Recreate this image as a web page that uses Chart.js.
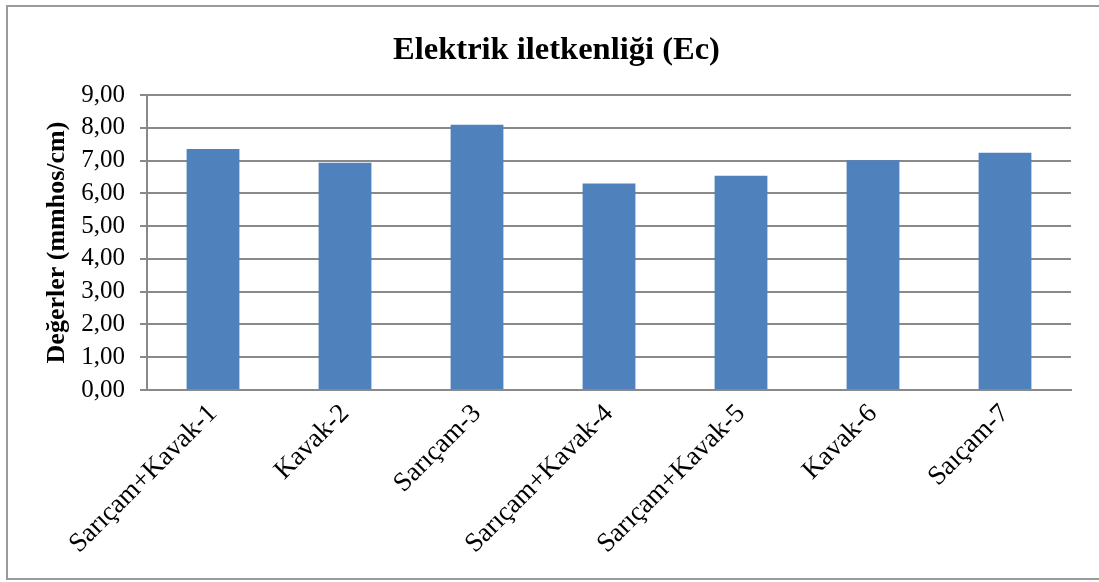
<!DOCTYPE html>
<html>
<head>
<meta charset="utf-8">
<script src="https://cdn.jsdelivr.net/npm/chart.js@4.4.1/dist/chart.umd.min.js"></script>
<style>
html,body{margin:0;padding:0;background:#fff;overflow:hidden;}
#wrap{position:absolute;left:0;top:0;width:1099px;height:582px;}
#frame{position:absolute;left:6px;top:5px;width:1200px;height:575px;border:2px solid #9a9a9a;box-sizing:border-box;pointer-events:none;}
</style>
</head>
<body>
<div id="wrap"><canvas id="c" width="1099" height="582"></canvas></div>
<div id="frame"></div>
<script>
const categories = ["Sarıçam+Kavak-1","Kavak-2","Sarıçam-3","Sarıçam+Kavak-4","Sarıçam+Kavak-5","Kavak-6","Saıçam-7"];
const ecValues = [7.35, 6.93, 8.09, 6.30, 6.54, 7.01, 7.24];
const yTicks = [0,1,2,3,4,5,6,7,8,9];
const chartTitle = "Elektrik iletkenliği (Ec)";
const yTitle = "Değerler (mmhos/cm)";

const FONT = "'Liberation Serif','Times New Roman',serif";
const GRID = "#898989";

new Chart(document.getElementById('c'), {
  type: 'bar',
  data: {
    labels: categories,
    datasets: [{
      data: ecValues,
      backgroundColor: '#4F81BD',
      borderWidth: 0,
      categoryPercentage: 1,
      barPercentage: 0.4
    }]
  },
  options: {
    responsive: false,
    animation: false,
    devicePixelRatio: 1,
    layout: { padding: { left: 42, right: 28, top: 0, bottom: 0 } },
    plugins: {
      legend: { display: false },
      tooltip: { enabled: false },
      title: {
        display: true,
        text: chartTitle,
        color: '#000',
        font: { family: FONT, size: 32.5, weight: 'bold', lineHeight: 1.2 },
        padding: { top: 31, bottom: 25 }
      }
    },
    scales: {
      x: {
        grid: { display: false, drawTicks: false },
        border: { display: true, color: GRID, width: 2 },
        ticks: {
          color: '#000',
          font: { family: FONT, size: 27 },
          maxRotation: 45, minRotation: 45,
          padding: 8,
          autoSkip: false
        },
        afterFit: s => { s.height = 192; }
      },
      y: {
        min: 0, max: 9,
        afterBuildTicks: s => { s.ticks = yTicks.map(v => ({ value: v })); },
        grid: { color: GRID, lineWidth: 2, tickLength: 7, drawTicks: true },
        border: { display: true, color: GRID, width: 2 },
        ticks: {
          color: '#000',
          font: { family: FONT, size: 25 },
          padding: 15,
          autoSkip: false,
          callback: v => v.toFixed(2).replace('.', ',')
        },
        title: {
          display: true,
          text: yTitle,
          color: '#000',
          font: { family: FONT, size: 26, weight: 'bold', lineHeight: 1.2 },
          padding: { top: 0, bottom: 0 }
        },
        afterFit: s => { s.width = 105; }
      }
    }
  }
});
</script>
</body>
</html>
